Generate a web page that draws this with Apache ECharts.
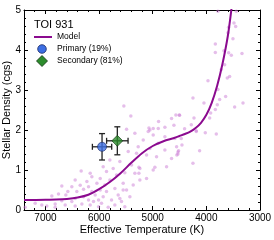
<!DOCTYPE html>
<html><head><meta charset="utf-8">
<script src="https://cdn.jsdelivr.net/npm/echarts@6/dist/echarts.min.js"></script>
<style>html,body{margin:0;padding:0;background:#fff}#c{width:274px;height:240px}</style>
</head><body><div id="c"></div>
<script>
// Model curve: [Teff, density]
const modelTeff = [7400,7000,6800,6600,6400,6200,6000,5800,5600,5400,5200,5000,4800,4600,4500,4400,4300,4200,4100,4000,3900,3800,3700,3600,3530];
const modelRho  = [0.25,0.255,0.26,0.275,0.31,0.38,0.52,0.7,0.92,1.18,1.42,1.6,1.72,1.8,1.85,1.9,1.96,2.05,2.18,2.38,2.68,3.1,3.65,4.35,5.05];

// Background sample stars
const starTeff = [6334,6166,6135,6446,6228,6695,6508,6352,6197,6041,6583,6415,6290,6757,6620,6881,6135,6073,6290,6446,6197,6104,6508,6695,6819,6975,7192,7068,7379,6632,6321,6010,6010,6166,6446,6819,5979,5979,
 5333,5084,4991,4773,4587,5177,4897,5271,5053,4773,4555,5457,5302,5115,4929,4649,5799,5613,5395,5240,4991,4742,5924,5737,5520,5333,5115,5862,5675,5799,5551,5364,5893,5706,5488,5862,5644,5426,5924,5768,5582,5955,5706,5520,5830,5613,5551,5240,
 4468,4188,4020,3815,4455,4518,4126,4250,4530,
 3784,3535,3442,3485,3454,3585,3597,3504,3833,3672,3833,3585,3535,3336,3659,3721,3566,3610,3970,3784,4250,3753,4045,3796,3641,3317,3833,3473,3920,4499,4231,3939,4281,4406,4188,
 5538,5408,5488,5053,4991,4891,4773,4649,4568,4506,4897,5071,4605,4960,4530,4550,5258,5258];
const starRho = [0.975,0.92,0.83,0.75,0.71,0.60,0.58,0.62,0.58,0.67,0.46,0.46,0.52,0.40,0.375,0.35,0.46,0.375,0.33,0.29,0.25,0.21,0.21,0.23,0.15,0.10,0.17,0.125,0.07,0.125,0.15,0.25,0.08,0.125,0.10,0.07,0.5,0.79,
 1.92,1.96,1.875,1.83,1.79,1.75,1.67,1.58,1.54,1.5,1.58,1.46,1.42,1.375,1.33,1.29,1.25,1.21,1.125,1.04,1.0,1.08,1.08,1.04,0.93,0.92,0.79,0.96,0.875,0.75,0.67,0.625,0.625,0.54,0.5,0.46,0.375,0.33,0.33,0.25,0.21,0.17,0.125,0.08,0.07,0.29,0.5,0.75,
 1.79,1.96,1.93,1.9,1.625,1.48,1.48,1.17,1.4,
 4.97,5.01,4.97,4.675,4.59,4.57,4.43,4.28,4.15,3.98,3.94,3.93,3.87,3.91,3.63,3.51,3.34,3.3,3.23,3.01,2.8,2.76,2.675,2.63,2.84,2.675,2.51,2.575,2.425,2.37,2.3,2.3,2.13,2.03,1.98,
 2.6,2.35,2.02,2.0,2.04,2.21,2.07,2.29,2.375,2.375,2.04,2.05,2.12,1.07,1.45,1.375,1.07,0.92];

// TOI 931 solutions
const primary   = {teff:5945, teffErr:180, rho:1.58, rhoErr:0.33};
const secondary = {teff:5660, teffErr:200, rho:1.73, rhoErr:0.35};

const legendTitle = 'TOI 931';
const legendLabels = ['Model', 'Primary (19%)', 'Secondary (81%)'];

const purple = '#8b0a8f', blue = '#3d6fe3', green = '#2c8c2c';

const chart = echarts.init(document.getElementById('c'));
const font = 'Liberation Sans, Arial, sans-serif';
const axisLineStyle = {color:'#000', width:1};
const xBase = {type:'value', inverse:true, min:3000, max:7400, interval:1000,
  axisLine:{show:true, onZero:false, lineStyle:axisLineStyle},
  axisTick:{show:true, inside:true, length:4, lineStyle:{color:'#000'}},
  minorTick:{show:true, splitNumber:5, length:2, lineStyle:{color:'#000'}},
  splitLine:{show:false}};
const yBase = {type:'value', min:0, max:5, interval:1,
  axisLine:{show:true, onZero:false, lineStyle:axisLineStyle},
  axisTick:{show:true, inside:true, length:4, lineStyle:{color:'#000'}},
  minorTick:{show:true, splitNumber:5, length:2, lineStyle:{color:'#000'}},
  splitLine:{show:false}};

function errRender(params, api){
  const x = api.value(0), dx = api.value(1), y = api.value(2), dy = api.value(3);
  const c = api.coord([x,y]);
  const l = api.coord([x+dx,y]), r = api.coord([x-dx,y]);
  const t = api.coord([x,y+dy]), b = api.coord([x,y-dy]);
  const cap = 3;
  const st = {stroke:'#222', lineWidth:1.3};
  return {type:'group', children:[
    {type:'line', shape:{x1:l[0],y1:c[1],x2:r[0],y2:c[1]}, style:st},
    {type:'line', shape:{x1:c[0],y1:t[1],x2:c[0],y2:b[1]}, style:st},
    {type:'line', shape:{x1:l[0],y1:c[1]-cap,x2:l[0],y2:c[1]+cap}, style:st},
    {type:'line', shape:{x1:r[0],y1:c[1]-cap,x2:r[0],y2:c[1]+cap}, style:st},
    {type:'line', shape:{x1:c[0]-cap,y1:t[1],x2:c[0]+cap,y2:t[1]}, style:st},
    {type:'line', shape:{x1:c[0]-cap,y1:b[1],x2:c[0]+cap,y2:b[1]}, style:st}
  ]};
}

const lgTxt = {fontFamily:font, fontSize:8.5, fill:'#000', verticalAlign:'middle', align:'left'};

chart.setOption({
  animation:false,
  textStyle:{fontFamily:font},
  grid:{left:24, right:14, top:10, bottom:30, outerBoundsMode:'none', containLabel:false},
  xAxis:[
    Object.assign({}, xBase, {position:'bottom', name:'Effective Temperature (K)', nameLocation:'middle', nameGap:14, nameMoveOverlap:false,
      nameTextStyle:{fontFamily:font, fontSize:11, color:'#000'},
      axisLabel:{show:true, showMaxLabel:false, margin:3, fontFamily:font, fontSize:10, color:'#000', formatter:v=>String(v)}}),
    Object.assign({}, xBase, {position:'top', axisLabel:{show:false}})
  ],
  yAxis:[
    Object.assign({}, yBase, {position:'left', name:'Stellar Density (cgs)', nameLocation:'middle', nameGap:12, nameMoveOverlap:false,
      nameTextStyle:{fontFamily:font, fontSize:11, color:'#000'},
      axisLabel:{show:true, margin:3, fontFamily:font, fontSize:10, color:'#000'}}),
    Object.assign({}, yBase, {position:'right', axisLabel:{show:false}})
  ],
  graphic:[
    {type:'text', left:34, top:19, style:Object.assign({}, lgTxt, {text:legendTitle, fontSize:11, verticalAlign:'top'})},
    {type:'line', shape:{x1:34,y1:37,x2:52,y2:37}, style:{stroke:purple, lineWidth:2}},
    {type:'text', x:57, y:37, style:Object.assign({}, lgTxt, {text:legendLabels[0]})},
    {type:'circle', shape:{cx:42, cy:49, r:4.3}, style:{fill:blue, stroke:'#1a2a66', lineWidth:0.8}},
    {type:'text', x:57, y:49, style:Object.assign({}, lgTxt, {text:legendLabels[1]})},
    {type:'polygon', shape:{points:[[42,55.5],[47.5,61],[42,66.5],[36.5,61]]}, style:{fill:green, stroke:'#113311', lineWidth:0.8}},
    {type:'text', x:57, y:61, style:Object.assign({}, lgTxt, {text:legendLabels[2]})}
  ],
  series:[
    {type:'scatter', name:'stars', silent:true, symbolSize:3.5, z:1,
      itemStyle:{color:'rgba(200,120,212,0.6)'},
      data: starTeff.map((t,i)=>[t, starRho[i]])},
    {type:'line', name:'Model', smooth:0.3, showSymbol:false, symbol:'none', z:2,
      lineStyle:{color:purple, width:2}, itemStyle:{color:purple},
      data: modelTeff.map((t,i)=>[t, modelRho[i]])},
    {type:'custom', name:'err', silent:true, z:3, renderItem:errRender,
      data:[[primary.teff, primary.teffErr, primary.rho, primary.rhoErr],[secondary.teff, secondary.teffErr, secondary.rho, secondary.rhoErr]]},
    {type:'scatter', name:legendLabels[1], symbol:'circle', symbolSize:9, z:4,
      itemStyle:{color:blue, borderColor:'#1a2a66', borderWidth:0.8},
      data:[[primary.teff, primary.rho]]},
    {type:'scatter', name:legendLabels[2], symbol:'diamond', symbolSize:11, z:4,
      itemStyle:{color:green, borderColor:'#113311', borderWidth:0.8},
      data:[[secondary.teff, secondary.rho]]}
  ]
});
</script></body></html>
